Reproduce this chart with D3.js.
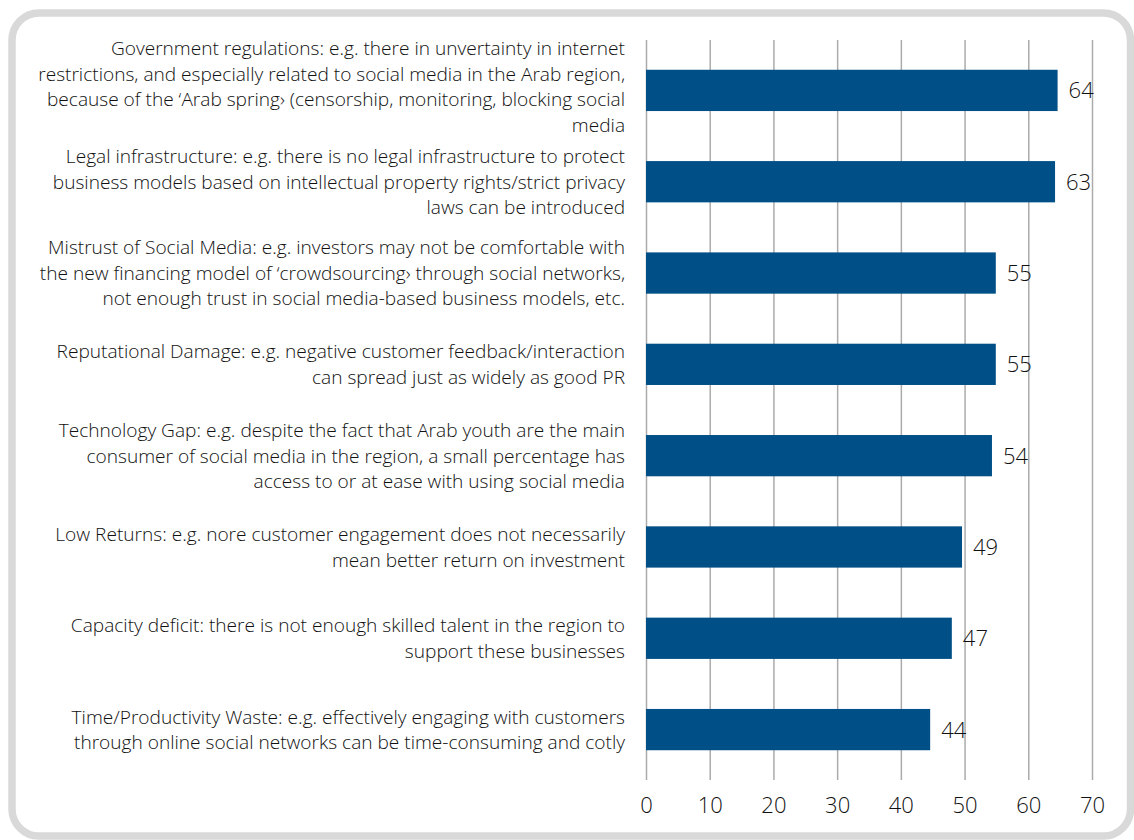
<!DOCTYPE html>
<html lang="en">
<head>
  <meta charset="UTF-8">
  <title>Risks of social media business models</title>
  <script src="https://cdn.jsdelivr.net/npm/d3@7"></script>
  <style>
    body { margin: 0; background: #fff; }
    .cat { font: 300 19.1px "Open Sans", sans-serif; fill: #111; text-anchor: end; }
    .val { font: 300 22px "Open Sans", sans-serif; fill: #111; }
    .x-axis text { font: 300 22px "Open Sans", sans-serif; fill: #111; }
  </style>
</head>
<body>
  <svg width="1134" height="840"></svg>

  <script>
    // category labels, already broken into lines as in the original
    var categories = [
      ["Government regulations: e.g. there in unvertainty in internet",
       "restrictions, and especially related to social media in the Arab region,",
       "because of the \u2018Arab spring\u203a (censorship, monitoring, blocking social",
       "media"],
      ["Legal infrastructure: e.g. there is no legal infrastructure to protect",
       "business models based on intellectual property rights/strict privacy",
       "laws can be introduced"],
      ["Mistrust of Social Media: e.g. investors may not be comfortable with",
       "the new financing model of \u2018crowdsourcing\u203a through social networks,",
       "not enough trust in social media-based business models, etc."],
      ["Reputational Damage: e.g. negative customer feedback/interaction",
       "can spread just as widely as good PR"],
      ["Technology Gap: e.g. despite the fact that Arab youth are the main",
       "consumer of social media in the region, a small percentage has",
       "access to or at ease with using social media"],
      ["Low Returns: e.g. nore customer engagement does not necessarily",
       "mean better return on investment"],
      ["Capacity deficit: there is not enough skilled talent in the region to",
       "support these businesses"],
      ["Time/Productivity Waste: e.g. effectively engaging with customers",
       "through online social networks can be time-consuming and cotly"]
    ];
    var values = [64.6, 64.2, 54.9, 54.9, 54.3, 49.6, 48.0, 44.6];
    var valueLabels = ["64", "63", "55", "55", "54", "49", "47", "44"];
    var xTicks = [0, 10, 20, 30, 40, 50, 60, 70];

    var svg = d3.select("svg");

    // rounded grey frame
    svg.append("rect")
      .attr("x", 12).attr("y", 13)
      .attr("width", 1118.5).attr("height", 823)
      .attr("rx", 27).attr("ry", 27)
      .attr("fill", "#fff")
      .attr("stroke", "#d9d9d9")
      .attr("stroke-width", 7.5);

    var plotTop = 40, plotBottom = 780;

    var x = d3.scaleLinear().domain([0, 70]).range([646, 1092]);
    var y = d3.scaleBand()
      .domain(d3.range(categories.length))
      .range([plotTop, plotBottom])
      .paddingInner(0.548)
      .paddingOuter(0.326);

    // axis + vertical gridlines
    var axis = svg.append("g")
      .attr("class", "x-axis")
      .attr("transform", "translate(0," + plotBottom + ")")
      .call(d3.axisBottom(x).tickValues(xTicks).tickSize(-(plotBottom - plotTop)).tickPadding(17));
    axis.select(".domain").remove();
    axis.selectAll(".tick line").attr("stroke", "#ababab").attr("stroke-width", 1.5);

    // bars
    svg.append("g").selectAll("rect")
      .data(values)
      .enter().append("rect")
      .attr("x", x(0))
      .attr("y", function (d, i) { return y(i); })
      .attr("width", function (d) { return x(d) - x(0); })
      .attr("height", y.bandwidth())
      .attr("fill", "#005087");

    // value labels
    svg.append("g").selectAll("text")
      .data(values)
      .enter().append("text")
      .attr("class", "val")
      .attr("x", function (d) { return x(d) + 11; })
      .attr("y", function (d, i) { return y(i) + y.bandwidth() / 2; })
      .attr("dy", "0.36em")
      .text(function (d, i) { return valueLabels[i]; });

    // category labels (multi-line, right aligned)
    var lineH = 25.5;
    var cat = svg.append("g").selectAll("text")
      .data(categories)
      .enter().append("text")
      .attr("class", "cat")
      .attr("y", function (d, i) {
        var mid = y(i) + y.bandwidth() / 2;
        if (d.length > 3) mid -= 4; // the long first label sits a bit higher
        return mid - (d.length - 1) * lineH / 2;
      });
    cat.selectAll("tspan")
      .data(function (d) { return d; })
      .enter().append("tspan")
      .attr("x", 625)
      .attr("dy", function (d, j) { return j === 0 ? "0.36em" : lineH; })
      .text(function (d) { return d; });
  </script>
</body>
</html>
